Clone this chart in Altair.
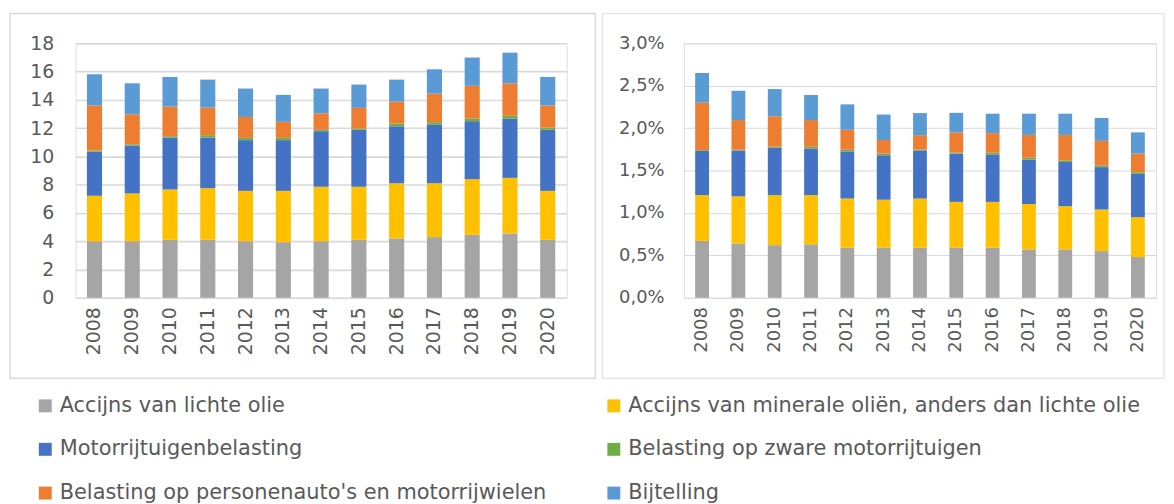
import altair as alt
import pandas as pd

years = ["2008", "2009", "2010", "2011", "2012", "2013", "2014",
         "2015", "2016", "2017", "2018", "2019", "2020"]
series = [
    "Accijns van lichte olie",
    "Accijns van minerale oliën, anders dan lichte olie",
    "Motorrijtuigenbelasting",
    "Belasting op zware motorrijtuigen",
    "Belasting op personenauto's en motorrijwielen",
    "Bijtelling",
]
colors = ["#a5a5a5", "#ffc000", "#4472c4", "#70ad47", "#ed7d31", "#5b9bd5"]

# left panel: amounts (billion euro)
licht = [4.0, 4.0, 4.1, 4.1, 4.0, 3.93, 4.0, 4.1, 4.19, 4.29, 4.45, 4.55, 4.1]
mineraal = [3.21, 3.38, 3.56, 3.65, 3.56, 3.63, 3.85, 3.75, 3.91, 3.81, 3.94, 3.93, 3.46]
mrb = [3.11, 3.39, 3.67, 3.58, 3.59, 3.59, 3.93, 4.03, 4.03, 4.13, 4.1, 4.2, 4.32]
zwaar = [0.09, 0.09, 0.1, 0.17, 0.16, 0.16, 0.1, 0.09, 0.19, 0.19, 0.19, 0.19, 0.16]
bpm = [3.19, 2.12, 2.09, 1.95, 1.48, 1.13, 1.17, 1.46, 1.56, 2.02, 2.31, 2.3, 1.56]
bijtelling = [2.21, 2.19, 2.1, 1.98, 2.01, 1.91, 1.75, 1.65, 1.55, 1.72, 2.0, 2.17, 2.02]

# right panel: share of GDP (%)
licht_p = [0.67, 0.64, 0.62, 0.63, 0.59, 0.59, 0.59, 0.59, 0.59, 0.57, 0.57, 0.55, 0.48]
mineraal_p = [0.54, 0.555, 0.59, 0.58, 0.58, 0.566, 0.58, 0.54, 0.54, 0.535, 0.51, 0.49, 0.47]
mrb_p = [0.52, 0.54, 0.56, 0.55, 0.555, 0.524, 0.567, 0.57, 0.56, 0.525, 0.52, 0.50, 0.51]
zwaar_p = [0.01, 0.01, 0.01, 0.02, 0.02, 0.02, 0.01, 0.01, 0.02, 0.02, 0.02, 0.02, 0.02]
bpm_p = [0.56, 0.35, 0.36, 0.315, 0.235, 0.16, 0.17, 0.24, 0.23, 0.27, 0.3, 0.29, 0.22]
bijtelling_p = [0.35, 0.345, 0.32, 0.295, 0.30, 0.30, 0.26, 0.23, 0.23, 0.25, 0.25, 0.27, 0.25]

left_ticks = [0, 2, 4, 6, 8, 10, 12, 14, 16, 18]
right_ticks = [0, 0.5, 1.0, 1.5, 2.0, 2.5, 3.0]


def long_table(cols):
    rows = []
    for si, s in enumerate(series):
        for yi, y in enumerate(years):
            rows.append({"jaar": y, "reeks": s, "orde": si, "waarde": cols[si][yi]})
    return pd.DataFrame(rows)


left_df = long_table([licht, mineraal, mrb, zwaar, bpm, bijtelling])
right_df = long_table([licht_p, mineraal_p, mrb_p, zwaar_p, bpm_p, bijtelling_p])

FONT = "DejaVu Sans"
GREY = "#595959"

color = alt.Color(
    "reeks:N",
    scale=alt.Scale(domain=series, range=colors),
    legend=alt.Legend(
        title=None, orient="none", legendX=-41, legendY=354, columns=2,
        direction="horizontal",
        columnPadding=57, rowPadding=22, symbolType="square", symbolSize=169,
        symbolStrokeWidth=0, labelFont=FONT, labelFontSize=21, labelColor=GREY,
        labelLimit=800, labelOffset=4, padding=0,
    ),
)


def panel(df, ticks, ymax, fsize, pin, pout, gridw, label_expr, lpad,
          fx0, fx1, fy0, fy1, w, h, fcolor):
    bars = alt.Chart(df).mark_bar().encode(
        x=alt.X(
            "jaar:N", sort=years,
            scale=alt.Scale(paddingInner=pin, paddingOuter=pout),
            axis=alt.Axis(title=None, labelAngle=-90, labelFontSize=fsize,
                          labelColor=GREY, labelFont=FONT, ticks=False,
                          domain=False, labelPadding=9, grid=False),
        ),
        y=alt.Y(
            "waarde:Q", stack="zero",
            scale=alt.Scale(domain=[0, ymax], nice=False),
            axis=alt.Axis(title=None, values=ticks, labelExpr=label_expr,
                          labelFontSize=fsize, labelColor=GREY, labelFont=FONT,
                          ticks=False, domain=False, labelPadding=lpad,
                          grid=True, gridColor="#d9d9d9", gridWidth=gridw),
        ),
        color=color,
        order=alt.Order("orde:Q", sort="ascending"),
    )
    frame = alt.Chart(pd.DataFrame({"k": [0]})).mark_rect(
        fill="white", fillOpacity=0, stroke=fcolor, strokeWidth=1.5
    ).encode(x=alt.value(fx0), x2=alt.value(fx1), y=alt.value(fy0), y2=alt.value(fy1))
    return alt.layer(frame, bars).properties(width=w, height=h)


left = panel(left_df, left_ticks, 18, 19, 0.6, 0.3, 1.6, "datum.label", 22,
             -66, 523, -30, 337, 494, 256, "#d9d9d9")
right = panel(right_df, right_ticks, 3.0, 18, 0.62, 0.31, 1.0,
              "replace(format(datum.value, '.1f'), '.', ',') + '%'", 20,
              -82, 483, -30, 337, 475, 256, "#e6e6e6")

chart = alt.hconcat(left, right, spacing=3).properties(
    padding={"left": 0, "top": 2, "right": 0, "bottom": 0}
).configure_view(stroke=None).configure(background="white")

chart.save("out.html", embed_options={"renderer": "svg", "actions": False})
